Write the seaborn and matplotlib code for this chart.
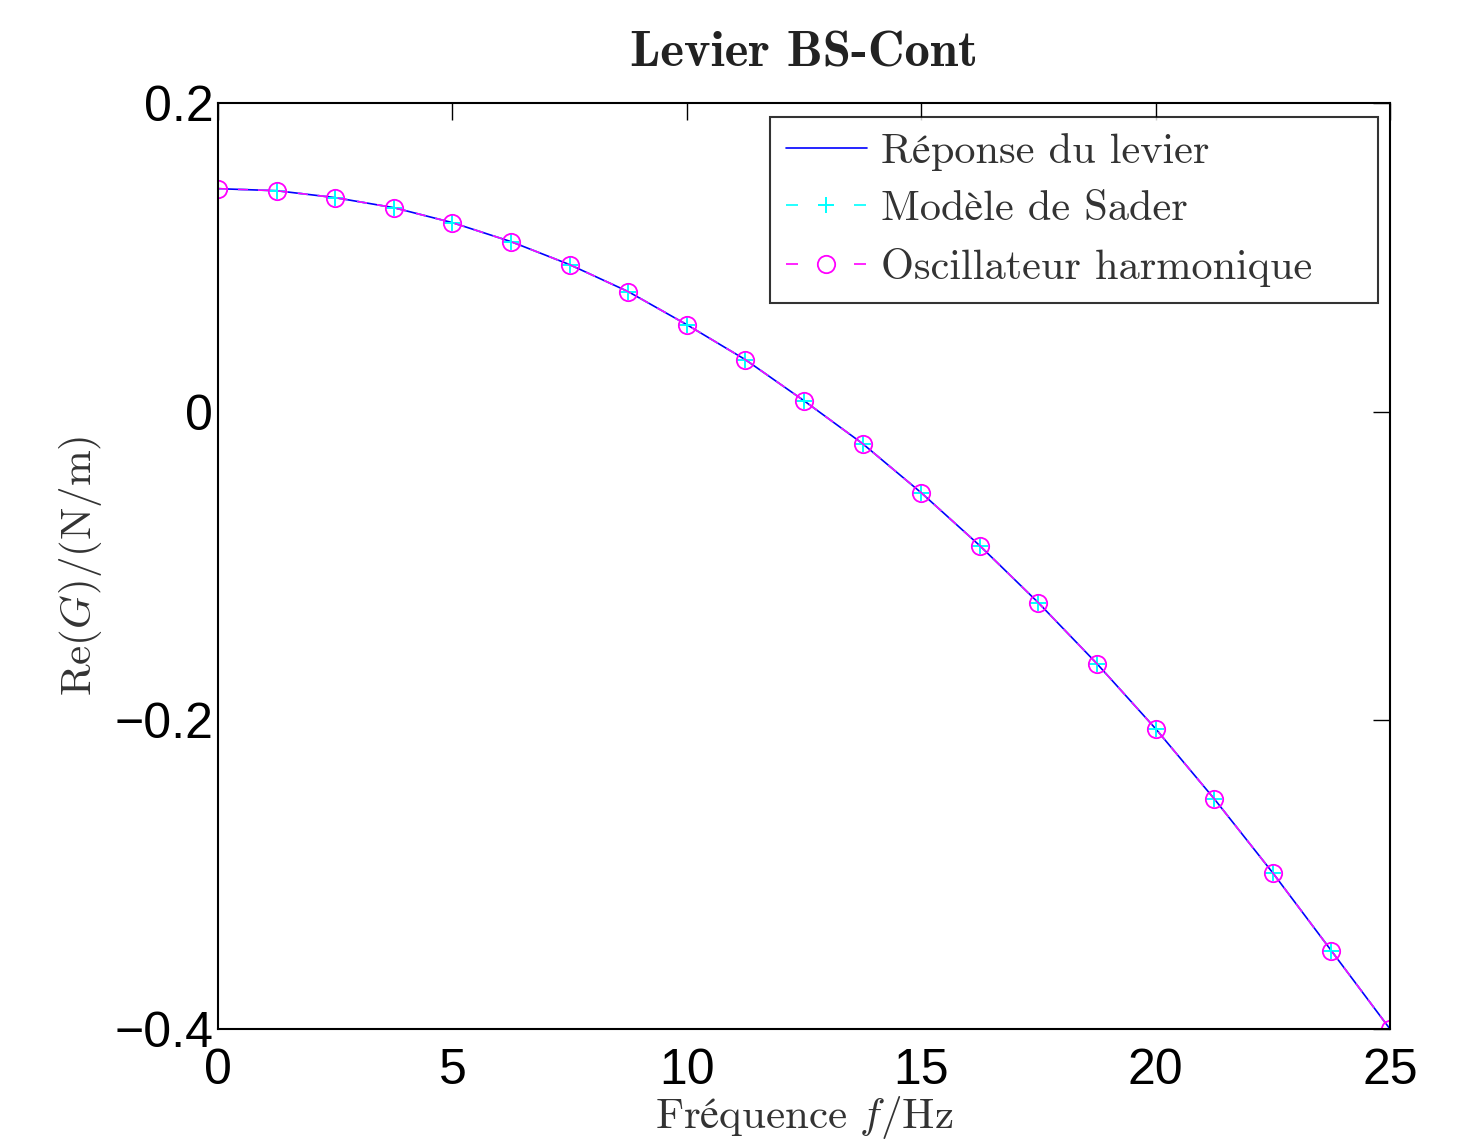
import numpy as np
import pandas as pd
import matplotlib
matplotlib.use("Agg")
import matplotlib.pyplot as plt
import seaborn as sns

# Data
freq = [0, 1.25, 2.5, 3.75, 5, 6.25, 7.5, 8.75, 10, 11.25, 12.5, 13.75,
        15, 16.25, 17.5, 18.75, 20, 21.25, 22.5, 23.75, 25]
re_levier = [0.1445, 0.1432, 0.1387, 0.1322, 0.1225, 0.1102, 0.0953, 0.0778,
             0.0564, 0.0337, 0.0071, -0.0207, -0.0525, -0.0868, -0.1238,
             -0.1633, -0.2054, -0.2508, -0.2988, -0.3493, -0.4000]
re_sader = list(re_levier)
re_harmo = list(re_levier)

labels = ["Réponse du levier", "Modèle de Sader", "Oscillateur harmonique"]
xticks = [0, 5, 10, 15, 20, 25]
yticks = [-0.4, -0.2, 0, 0.2]

sns.set_style("white")
plt.rcParams["font.family"] = ["Liberation Sans", "DejaVu Sans"]
plt.rcParams["mathtext.fontset"] = "cm"
plt.rcParams["axes.unicode_minus"] = True

fig = plt.figure(figsize=(14.82, 11.46), dpi=100)
ax = fig.add_axes([0.1471, 0.1021, 0.9379 - 0.1471, 0.9101 - 0.1021])

df = pd.DataFrame({"f": freq, "levier": re_levier, "sader": re_sader, "harmo": re_harmo})

sns.lineplot(data=df, x="f", y="levier", ax=ax, color="#0000ff", lw=1.2,
             label=labels[0], sort=False)
sns.lineplot(data=df, x="f", y="sader", ax=ax, color="#00ffff", lw=1.2,
             linestyle=(0, (6, 6)), marker="+", markersize=12,
             markeredgecolor="#00ffff", markeredgewidth=1.4,
             label=labels[1], sort=False)
sns.lineplot(data=df, x="f", y="harmo", ax=ax, color="#ff00ff", lw=1.2,
             linestyle=(0, (6, 6)), marker="o", markersize=12.5, markerfacecolor="none",
             markeredgecolor="#ff00ff", markeredgewidth=1.3,
             label=labels[2], sort=False)

ax.set_xlim(0, 25)
ax.set_ylim(-0.4, 0.2)
ax.set_xticks(xticks)
ax.set_yticks(yticks)
ax.set_xticklabels([f"{t:g}" for t in xticks])
ax.set_yticklabels(["\u22120.4", "\u22120.2", "0", "0.2"])
ax.tick_params(direction="in", length=12, width=1.0, labelsize=36, colors="black",
               top=True, right=True)
ax.tick_params(axis="x", pad=14)
ax.tick_params(axis="y", pad=3.5)
for s in ax.spines.values():
    s.set_visible(True)
    s.set_linewidth(1.5)
    s.set_color("black")

ax.set_xlabel(r"$\mathrm{Fréquence}\ f/\mathrm{Hz}$", fontsize=31, color="#333333", labelpad=0)
ax.set_ylabel(r"$\mathrm{Re}(G)/(\mathrm{N/m})$", fontsize=31, color="#333333", labelpad=7)
ax.set_title("Levier BS-Cont", family=["cmb10", "DejaVu Serif"], fontsize=36.5,
             color="#222222", pad=26)

x0, x1 = 770 / 1482, 1378 / 1482
ytop = 1 - 117 / 1146
leg = ax.legend(loc="upper left", bbox_to_anchor=(x0, ytop - 0.2, x1 - x0, 0.2),
                bbox_transform=fig.transFigure, borderaxespad=0, mode="expand",
                prop={"family": ["cmr10", "STIXGeneral"], "size": 30.5},
                frameon=True, fancybox=False, shadow=False,
                handlelength=1.9, handletextpad=0.33, labelspacing=0.46,
                borderpad=0.38)
leg.get_frame().set_edgecolor("black")
leg.get_frame().set_linewidth(1.5)
for t in leg.get_texts():
    t.set_color("#333333")
# MATLAB-like legend dashes: short dash, marker, short dash
for ln in leg.get_lines()[1:]:
    ln.set_linestyle((0, (7.2, 33.6)))

fig.savefig("out.png", dpi=100)
